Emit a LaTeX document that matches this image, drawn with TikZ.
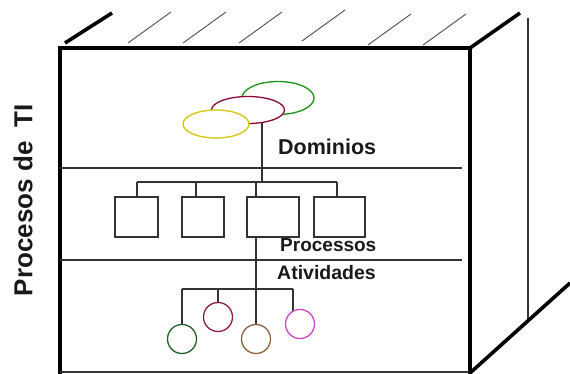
\documentclass[tikz,border=0pt]{standalone}
\usepackage{fontspec}
\setmainfont{Liberation Sans}
\usetikzlibrary{shapes.geometric}
\pgfdeclarelayer{background}
\pgfsetlayers{background,main}
\definecolor{ellgreen}{RGB}{20,150,20}
\definecolor{ellred}{RGB}{140,10,50}
\definecolor{ellyellow}{RGB}{210,200,0}
\definecolor{cgreen}{RGB}{30,100,40}
\definecolor{cred}{RGB}{140,30,70}
\definecolor{cbrown}{RGB}{140,100,60}
\definecolor{cmag}{RGB}{200,70,200}
\begin{document}
\begin{tikzpicture}[x=1pt,y=-1pt,
 thickedge/.style={line width=3.6pt, line join=miter},
 hatch/.style={line width=0.9pt, black!70},
 thinline/.style={line width=1.1pt, black!80},
 ell/.style={ellipse, draw, fill=white, line width=1.3pt, inner sep=0pt},
 pbox/.style={rectangle, draw=black!80, fill=white, line width=1.2pt, inner sep=0pt, minimum height=40pt},
 act/.style={circle, draw, fill=white, line width=1.3pt, minimum size=29pt, inner sep=0pt},
 lbl/.style={font=\bfseries\fontsize{19}{21}\selectfont, anchor=west, inner sep=0pt, text=black!90}
]
\useasboundingbox (0,0) rectangle (570,374);
% box outline
\draw[thickedge] (60,376) -- (60,48) -- (470,48) -- (470,376);
\draw[thinline] (60,372) -- (470,372);
% top face
\draw[thickedge] (65,43) -- (112,13);
\foreach \x/\y in {128/43,183/43,239/43,302/41,368/45,423/45}
  \draw[hatch] (\x,\y) -- ++(43,-31);
\draw[thickedge] (470,48) -- (520,13);
% right face
\draw[thinline] (528,18) -- (528,321);
\draw[thickedge] (470,373) -- (570,283);
% dividers
\draw[thinline] (60,168) -- (462,168);
\draw[thinline] (60,260) -- (462,260);
% title
\node[rotate=90, font=\bfseries\fontsize{26}{30}\selectfont, text=black!90] (title) at (23,200) {Procesos de\ \ TI};
% ellipses (domains)
\node[ell, draw=ellgreen, minimum width=72pt, minimum height=33pt] (dg) at (278,98) {};
\node[ell, draw=ellred, minimum width=73pt, minimum height=27pt] (dr) at (248,110) {};
\node[ell, draw=ellyellow, minimum width=66pt, minimum height=28pt] (dy) at (216,124) {};
% process boxes
\node[pbox, minimum width=43pt] (b1) at (136.5,217) {};
\node[pbox, minimum width=42pt] (b2) at (203,217) {};
\node[pbox, minimum width=52pt] (b3) at (273,217) {};
\node[pbox, minimum width=51pt] (b4) at (339.5,217) {};
% activity circles
\node[act, draw=cgreen] (c1) at (182,339) {};
\node[act, draw=cred] (c2) at (218,317) {};
\node[act, draw=cbrown] (c3) at (256,339) {};
\node[act, draw=cmag] (c4) at (300,324) {};
% labels
\node[lbl, font=\bfseries\fontsize{21.5}{23}\selectfont] (ldom) at (278,147) {Dominios};
\node[lbl] (lproc) at (280,245) {Processos};
\node[lbl, font=\bfseries\fontsize{19.5}{21}\selectfont] (lativ) at (277,273) {Atividades};
% connectors
\coordinate (j1) at (262,182);
\coordinate (d1) at (137,182);
\coordinate (d2) at (196,182);
\coordinate (d3) at (256,182);
\coordinate (d4) at (337,182);
\coordinate (k1) at (182,289);
\coordinate (k2) at (218,289);
\coordinate (k3) at (256,289);
\coordinate (k4) at (293,289);
\begin{pgfonlayer}{background}
\draw[thinline] (dr.center) -- (dr.center -| j1) -- (j1);
\draw[thinline] (d1) -- (d4);
\draw[thinline] (d1) -- (d1 |- b1.center);
\draw[thinline] (d2) -- (d2 |- b2.center);
\draw[thinline] (d3) -- (d3 |- c3.center);
\draw[thinline] (d4) -- (d4 |- b4.center);
\draw[thinline] (k1) -- (k4);
\draw[thinline] (k1) -- (c1.center);
\draw[thinline] (k2) -- (c2.center);
\draw[thinline] (k4) -- (k4 |- c4.center);
\end{pgfonlayer}
\end{tikzpicture}
\end{document}
